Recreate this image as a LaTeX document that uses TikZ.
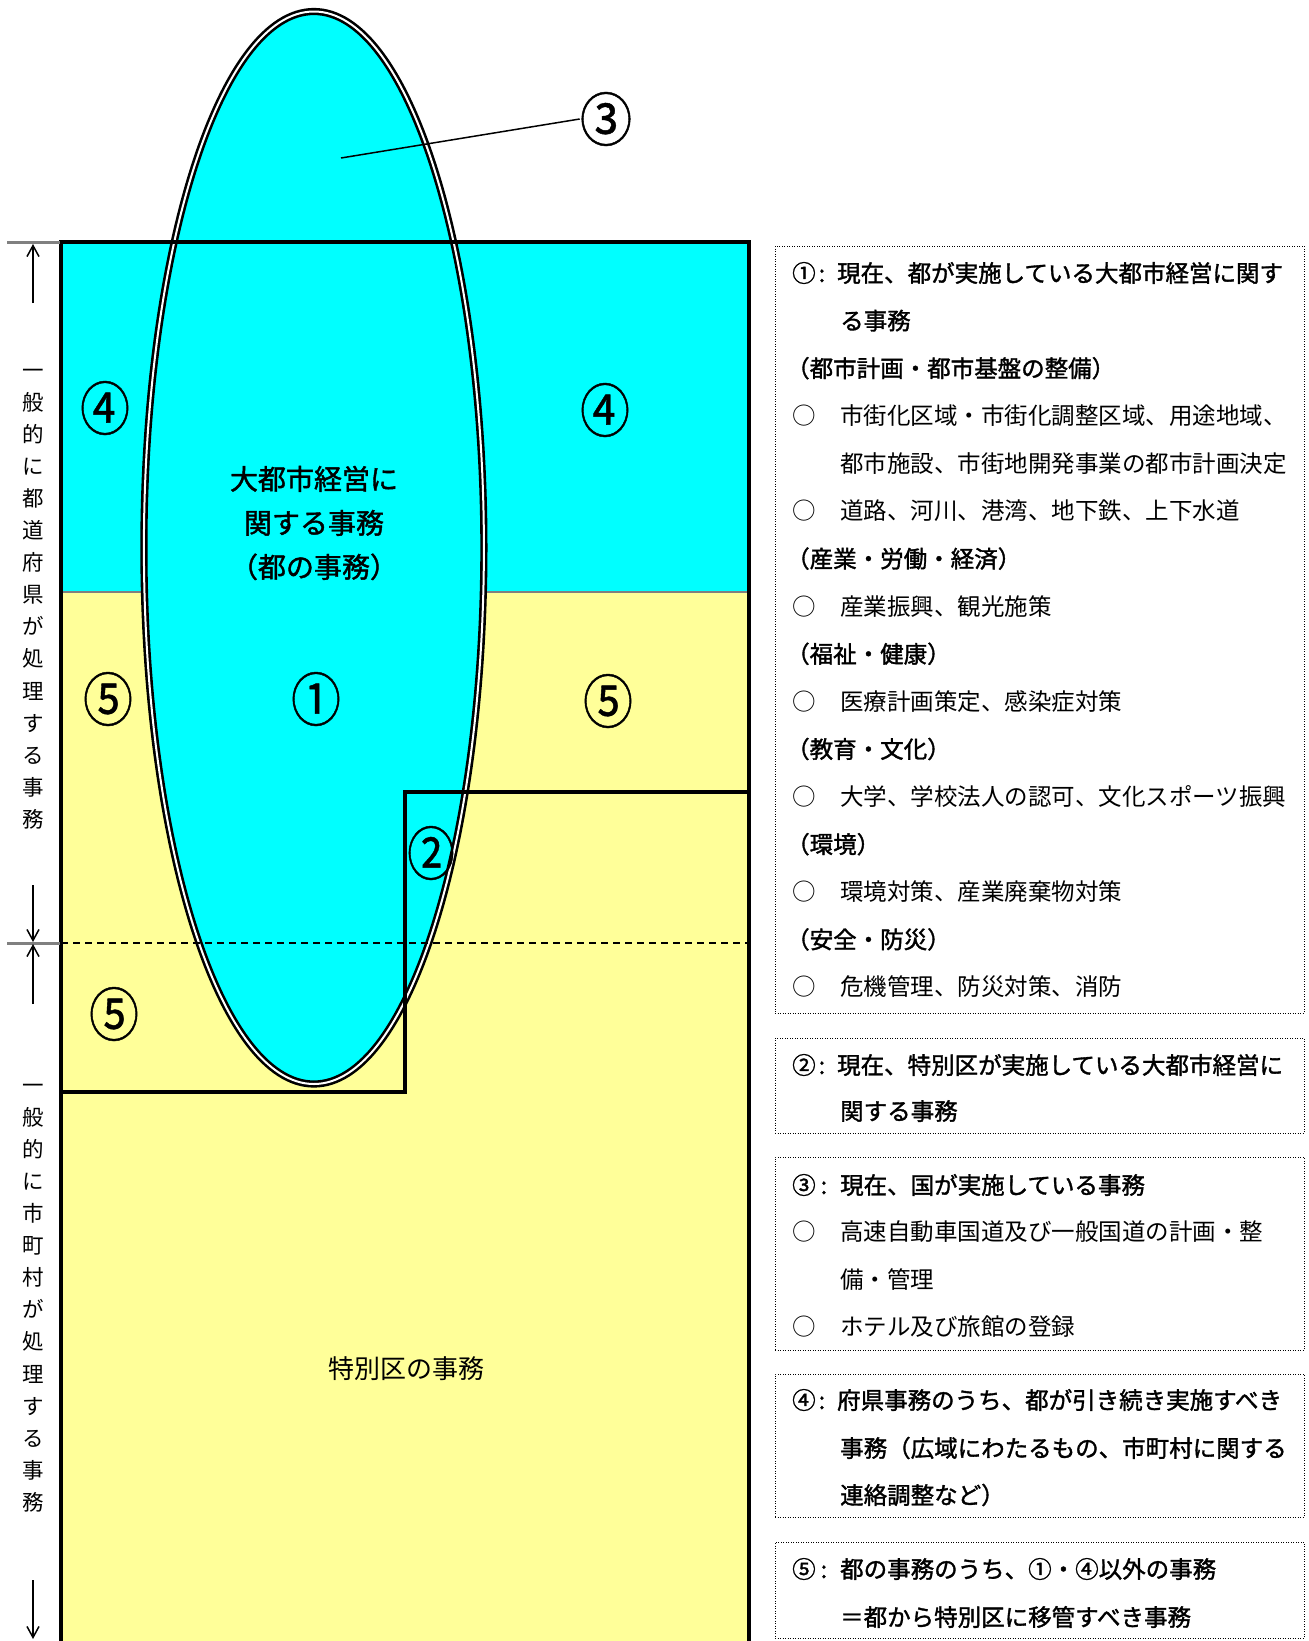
\documentclass[tikz,border=0pt]{standalone}
\usepackage{fontspec}
\setmainfont{Noto Sans CJK JP}
\newfontfamily\jpb{Noto Sans CJK JP}[FakeBold=1.5]
\newfontfamily\jpn{Noto Sans CJK JP}
\newfontfamily\jpc{Noto Sans CJK JP}[FakeBold=0.8]
\usetikzlibrary{arrows.meta}
\definecolor{cy}{RGB}{0,255,255}
\definecolor{ye}{RGB}{255,255,153}
\definecolor{gr}{RGB}{128,128,128}
\tikzset{
  thickline/.style={line width=3.8pt},
  steplines/.style={line width=3.4pt},
  dimarrow/.style={line width=1.5pt,-{Straight Barb[length=11pt,width=12pt,line width=1.5pt]}},
  dimtick/.style={gr,line width=3pt},
  cnum/.style={font=\jpc\fontsize{58}{58}\selectfont,inner sep=0pt},
  vtext/.style={font=\jpn\fontsize{21.5}{32.1}\selectfont,align=center,inner sep=0pt},
  infobox/.style={draw,line width=1pt,dash pattern=on 1pt off 1.5pt,inner sep=0pt},
  rt/.style={anchor=west,inner sep=0pt,font=\fontsize{23.5}{23.5}\selectfont},
  rb/.style={anchor=west,inner sep=0pt,font=\jpb\fontsize{23.5}{23.5}\selectfont},
  bullet/.style={anchor=west,inner sep=0pt,font=\jpn\fontsize{23.5}{23.5}\selectfont},
}
\begin{document}
\begin{tikzpicture}[x=1pt,y=-1pt]
\useasboundingbox (0,0) rectangle (1309,1641);
% regions
\fill[cy] (61,242) rectangle (749,592);
\fill[ye] (61,592) rectangle (749,1641);
\draw[gr,line width=2pt] (61,592) -- (749,592);
% ellipse
\draw[fill=cy,line width=2.6pt,double=white,double distance=2pt] (313.9,547.75) ellipse [x radius=170, y radius=536.25];
% dashed separator
\coordinate (dl) at (61,943);
\coordinate (dr) at (749,943);
\draw[line width=1.5pt,dash pattern=on 7pt off 5pt] (dl) -- (dr);
% step boundary of special-ward area
\coordinate (s1) at (749,792);
\coordinate (s2) at (405,792);
\coordinate (s3) at (405,1092);
\coordinate (s4) at (61,1092);
\draw[steplines] (s1) -- (s2) -- (s3) -- (s4);
% main frame
\coordinate (f1) at (61,1645);
\coordinate (f2) at (61,242);
\coordinate (f3) at (749,242);
\coordinate (f4) at (749,1645);
\draw[thickline] (f1) -- (f2) -- (f3) -- (f4);
% dimension ticks and arrows
\coordinate (t1a) at (7,242); \coordinate (t1b) at (60,242);
\coordinate (t2a) at (7,943); \coordinate (t2b) at (60,943);
\draw[dimtick] (t1a) -- (t1b);
\draw[dimtick] (t2a) -- (t2b);
\coordinate (a1s) at (33,303); \coordinate (a1e) at (33,244);
\coordinate (a2s) at (33,885); \coordinate (a2e) at (33,942);
\coordinate (a3s) at (33,1004); \coordinate (a3e) at (33,944);
\coordinate (a4s) at (33,1580); \coordinate (a4e) at (33,1639);
\draw[dimarrow] (a1s) -- (a1e);
\draw[dimarrow] (a2s) -- (a2e);
\draw[dimarrow] (a3s) -- (a3e);
\draw[dimarrow] (a4s) -- (a4e);
% vertical texts
\node[vtext] (v1) at (33,599) {一\\般\\的\\に\\都\\道\\府\\県\\が\\処\\理\\す\\る\\事\\務};
\node[vtext] (v2) at (33,1298) {一\\般\\的\\に\\市\\町\\村\\が\\処\\理\\す\\る\\事\\務};
% circled labels
\node[cnum] (n4a) at (105,408) {\scalebox{0.86}[1]{④}};
\node[cnum] (n4b) at (605,410) {\scalebox{0.86}[1]{④}};
\node[cnum] (n5a) at (108,699) {\scalebox{0.86}[1]{⑤}};
\node[cnum] (n5b) at (608,701) {\scalebox{0.86}[1]{⑤}};
\node[cnum] (n5c) at (114,1014) {\scalebox{0.86}[1]{⑤}};
\node[cnum] (n1) at (316,699) {\scalebox{0.86}[1]{①}};
\node[cnum] (n2) at (431,853) {\scalebox{0.82}[1]{②}};
\node[cnum] (n3) at (606,119) {\scalebox{0.9}[1]{③}};
\coordinate (p3) at (341,158);
\draw[line width=1.5pt] (p3) -- (n3.west);
% center texts
\node[font=\jpb\fontsize{28}{44}\selectfont,align=center,inner sep=0pt] (ctr) at (314,523) {大都市経営に\\関する事務\\（都の事務）};
\node[font=\fontsize{26}{26}\selectfont,inner sep=0pt] (tk) at (406,1369) {特別区の事務};
% right boxes
\node[infobox,minimum width=529pt,minimum height=767pt] (box1) at (1039.5,629.5) {};
\node[infobox,minimum width=529pt,minimum height=95pt] (box2) at (1039.5,1085.5) {};
\node[infobox,minimum width=529pt,minimum height=193pt] (box3) at (1039.5,1253.5) {};
\node[infobox,minimum width=529pt,minimum height=143pt] (box4) at (1039.5,1445.5) {};
\node[infobox,minimum width=529pt,minimum height=96pt] (box5) at (1039.5,1590) {};
% box 1
\node[rb] (b1a) at (792,273) {\makebox[45pt][l]{①\hspace{3pt}:}現在、都が実施している大都市経営に関す};
\node[rb] (b1b) at (840,320.6) {る事務};
\node[rb] (b1c) at (786,368.2) {（都市計画・都市基盤の整備）};
\node[bullet] (b1d) at (792,415.8) {○};
\node[rt] (b1e) at (840,415.8) {市街化区域・市街化調整区域、用途地域、};
\node[rt] (b1f) at (840,463.4) {都市施設、市街地開発事業の都市計画決定};
\node[bullet] (b1g) at (792,511) {○};
\node[rt] (b1h) at (840,511) {道路、河川、港湾、地下鉄、上下水道};
\node[rb] (b1i) at (786,558.6) {（産業・労働・経済）};
\node[bullet] (b1j) at (792,606.2) {○};
\node[rt] (b1k) at (840,606.2) {産業振興、観光施策};
\node[rb] (b1l) at (786,653.8) {（福祉・健康）};
\node[bullet] (b1m) at (792,701.4) {○};
\node[rt] (b1n) at (840,701.4) {医療計画策定、感染症対策};
\node[rb] (b1o) at (786,749) {（教育・文化）};
\node[bullet] (b1p) at (792,796.6) {○};
\node[rt] (b1q) at (840,796.6) {大学、学校法人の認可、文化スポーツ振興};
\node[rb] (b1r) at (786,844.2) {（環境）};
\node[bullet] (b1s) at (792,891.8) {○};
\node[rt] (b1t) at (840,891.8) {環境対策、産業廃棄物対策};
\node[rb] (b1u) at (786,939.4) {（安全・防災）};
\node[bullet] (b1v) at (792,987) {○};
\node[rt] (b1w) at (840,987) {危機管理、防災対策、消防};
% box 2
\node[rb] (b2a) at (792,1065) {\makebox[45pt][l]{②\hspace{3pt}:}現在、特別区が実施している大都市経営に};
\node[rb] (b2b) at (840,1111) {関する事務};
% box 3
\node[rb] (b3a) at (792,1185) {\makebox[48pt][l]{③\hspace{5pt}:}現在、国が実施している事務};
\node[bullet] (b3b) at (792,1232) {○};
\node[rt] (b3c) at (840,1232) {高速自動車国道及び一般国道の計画・整};
\node[rt] (b3d) at (840,1280) {備・管理};
\node[bullet] (b3e) at (792,1327) {○};
\node[rt] (b3f) at (840,1327) {ホテル及び旅館の登録};
% box 4
\node[rb] (b4a) at (792,1400) {\makebox[45pt][l]{④\hspace{3pt}:}府県事務のうち、都が引き続き実施すべき};
\node[rb] (b4b) at (840,1448) {事務（広域にわたるもの、市町村に関する};
\node[rb] (b4c) at (840,1495) {連絡調整など）};
% box 5
\node[rb] (b5a) at (792,1569) {\makebox[48pt][l]{⑤\hspace{5pt}:}都の事務のうち、①・④以外の事務};
\node[rb] (b5b) at (840,1617) {＝都から特別区に移管すべき事務};
\end{tikzpicture}
\end{document}
